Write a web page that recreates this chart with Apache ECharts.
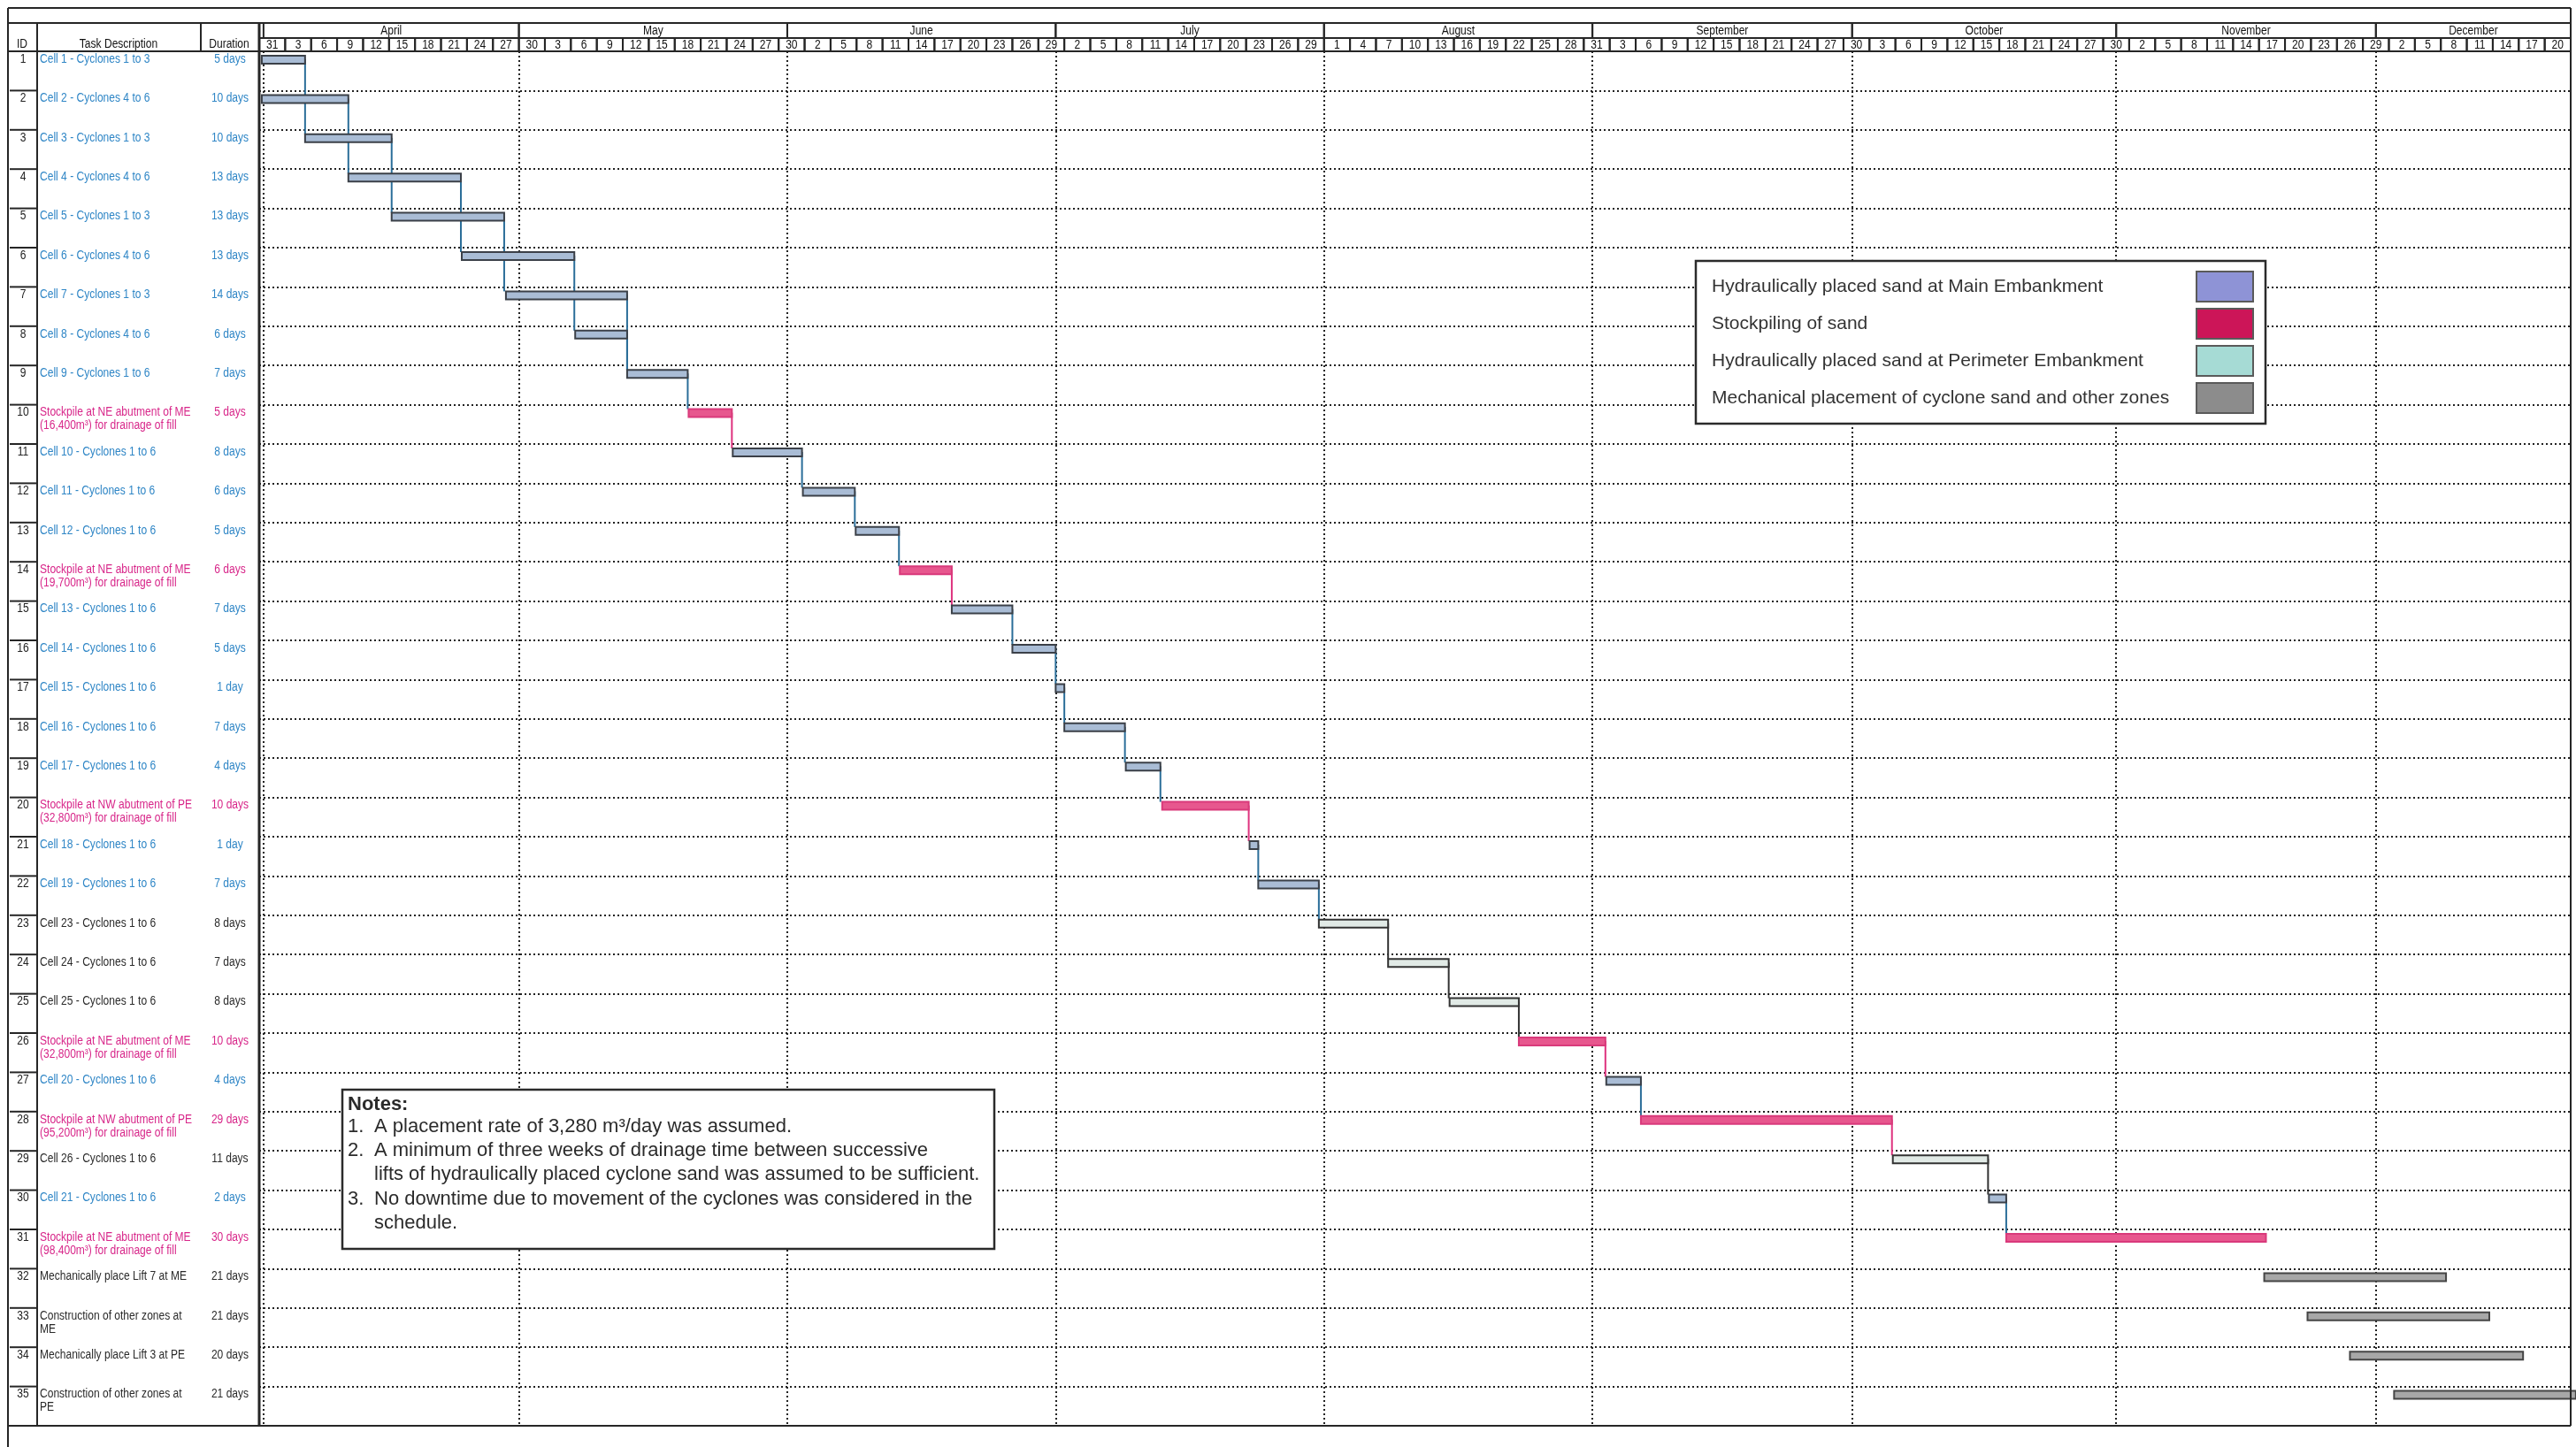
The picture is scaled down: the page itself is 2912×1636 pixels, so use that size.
<!DOCTYPE html>
<html>
<head>
<meta charset="utf-8">
<title>Cyclone sand placement schedule</title>
<script src="https://cdn.jsdelivr.net/npm/echarts@6/dist/echarts.min.js"></script>
<style>
  html, body { margin: 0; padding: 0; background: #fff; }
  #chart { width: 2912px; height: 1636px; }
</style>
</head>
<body>
<div id="chart"></div>
<script>
// ---- schedule data (day 0 = 31 March) ----
var taskIds = [1, 2, 3, 4, 5, 6, 7, 8, 9, 10, 11, 12, 13, 14, 15, 16, 17, 18, 19, 20,
  21, 22, 23, 24, 25, 26, 27, 28, 29, 30, 31, 32, 33, 34, 35];

var taskNames = [
  'Cell 1 - Cyclones 1 to 3',
  'Cell 2 - Cyclones 4 to 6',
  'Cell 3 - Cyclones 1 to 3',
  'Cell 4 - Cyclones 4 to 6',
  'Cell 5 - Cyclones 1 to 3',
  'Cell 6 - Cyclones 4 to 6',
  'Cell 7 - Cyclones 1 to 3',
  'Cell 8 - Cyclones 4 to 6',
  'Cell 9 - Cyclones 1 to 6',
  'Stockpile at NE abutment of ME\n(16,400m³) for drainage of fill',
  'Cell 10 - Cyclones 1 to 6',
  'Cell 11 - Cyclones 1 to 6',
  'Cell 12 - Cyclones 1 to 6',
  'Stockpile at NE abutment of ME\n(19,700m³) for drainage of fill',
  'Cell 13 - Cyclones 1 to 6',
  'Cell 14 - Cyclones 1 to 6',
  'Cell 15 - Cyclones 1 to 6',
  'Cell 16 - Cyclones 1 to 6',
  'Cell 17 - Cyclones 1 to 6',
  'Stockpile at NW abutment of PE\n(32,800m³) for drainage of fill',
  'Cell 18 - Cyclones 1 to 6',
  'Cell 19 - Cyclones 1 to 6',
  'Cell 23 - Cyclones 1 to 6',
  'Cell 24 - Cyclones 1 to 6',
  'Cell 25 - Cyclones 1 to 6',
  'Stockpile at NE abutment of ME\n(32,800m³) for drainage of fill',
  'Cell 20 - Cyclones 1 to 6',
  'Stockpile at NW abutment of PE\n(95,200m³) for drainage of fill',
  'Cell 26 - Cyclones 1 to 6',
  'Cell 21 - Cyclones 1 to 6',
  'Stockpile at NE abutment of ME\n(98,400m³) for drainage of fill',
  'Mechanically place Lift 7 at ME',
  'Construction of other zones at\nME',
  'Mechanically place Lift 3 at PE',
  'Construction of other zones at\nPE'
];

var durationLabels = ['5 days', '10 days', '10 days', '13 days', '13 days', '13 days', '14 days',
  '6 days', '7 days', '5 days', '8 days', '6 days', '5 days', '6 days', '7 days', '5 days', '1 day',
  '7 days', '4 days', '10 days', '1 day', '7 days', '8 days', '7 days', '8 days', '10 days', '4 days',
  '29 days', '11 days', '2 days', '30 days', '21 days', '21 days', '20 days', '21 days'];

// me = hydraulic at Main Embankment, stock = stockpiling, pe = hydraulic at Perimeter Embankment, mech = mechanical
var taskType = ['me', 'me', 'me', 'me', 'me', 'me', 'me', 'me', 'me', 'stock', 'me', 'me', 'me', 'stock',
  'me', 'me', 'me', 'me', 'me', 'stock', 'me', 'me', 'pe', 'pe', 'pe', 'stock', 'me', 'stock', 'pe',
  'me', 'stock', 'mech', 'mech', 'mech', 'mech'];

var startDays = [0.3, 0.3, 5.3, 10.3, 15.3, 23.4, 28.5, 36.5, 42.5, 49.6, 54.7, 62.8, 68.9, 74, 80,
  87, 92, 93, 100.1, 104.3, 114.4, 115.4, 122.4, 130.4, 137.5, 145.5, 155.6, 159.6, 188.7, 199.8,
  201.8, 231.6, 236.6, 241.5, 246.6];

var durationDays = [5, 10, 10, 13, 13, 13, 14, 6, 7, 5, 8, 6, 5, 6, 7, 5, 1, 7, 4, 10, 1, 7, 8, 7, 8,
  10, 4, 29, 11, 2, 30, 21, 21, 20, 21];

// finish-to-start links [predecessor id, successor id]
var links = [[1, 3], [2, 4], [3, 5], [4, 6], [5, 7], [6, 8], [7, 9], [8, 9], [9, 10], [10, 11],
  [11, 12], [12, 13], [13, 14], [14, 15], [15, 16], [16, 17], [17, 18], [18, 19], [19, 20], [20, 21],
  [21, 22], [22, 23], [23, 24], [24, 25], [25, 26], [26, 27], [27, 28], [28, 29], [29, 30], [30, 31]];

// timescale: one cell every 3 days from 31 March
var dayTicks = [31, 3, 6, 9, 12, 15, 18, 21, 24, 27,
  30, 3, 6, 9, 12, 15, 18, 21, 24, 27,
  30, 2, 5, 8, 11, 14, 17, 20, 23, 26, 29,
  2, 5, 8, 11, 14, 17, 20, 23, 26, 29,
  1, 4, 7, 10, 13, 16, 19, 22, 25, 28,
  31, 3, 6, 9, 12, 15, 18, 21, 24, 27,
  30, 3, 6, 9, 12, 15, 18, 21, 24, 27, 30,
  2, 5, 8, 11, 14, 17, 20, 23, 26, 29,
  2, 5, 8, 11, 14, 17, 20];
var months = ['April', 'May', 'June', 'July', 'August', 'September', 'October', 'November', 'December'];
var monthStarts = [0.5, 30, 61, 92, 123, 154, 184, 214.5, 244.5];
var lastDay = 267;

var legendNames = [
  'Hydraulically placed sand at Main Embankment',
  'Stockpiling of sand',
  'Hydraulically placed sand at Perimeter Embankment',
  'Mechanical placement of cyclone sand and other zones'
];

var noteNumbers = ['1.', '2.', '', '3.', ''];
var noteLines = [
  'A placement rate of 3,280 m³/day was assumed.',
  'A minimum of three weeks of drainage time between successive',
  'lifts of hydraulically placed cyclone sand was assumed to be sufficient.',
  'No downtime due to movement of the cyclones was considered in the',
  'schedule.'
];

// ---- styles ----
var SANS = '"Liberation Sans", Arial, sans-serif';
var SQUEEZE = 0.86; // no narrow face installed, so squeeze the small table text
var INK = '#262626';
var typeKeys = ['me', 'stock', 'pe', 'mech'];
var typeStyle = {
  me:    { fill: '#a9bcd5', stroke: '#3b4048', text: '#2f86c6', link: '#2b6e99' },
  stock: { fill: '#e7578e', stroke: '#d93a7b', text: '#d8278a', link: '#de327e' },
  pe:    { fill: '#e1eae6', stroke: '#333333', text: '#2b2b2b', link: '#333333' },
  mech:  { fill: '#a7a7a7', stroke: '#454545', text: '#2b2b2b', link: '#333333' }
};
var swatchColors = ['#8e93d6', '#cc1558', '#a6dbd5', '#8c8c8c'];

var chart = echarts.init(document.getElementById('chart'));

function rowTop(api, row) {
  return api.coord([0, row])[1] - api.size([0, 1])[1] / 2;
}

function smallText(x, y, text, color, align, vAlign) {
  return {
    type: 'text', x: x, y: y, scaleX: SQUEEZE,
    style: { text: text, fontFamily: SANS, fontSize: 14, lineHeight: 15, fill: color,
      align: align, verticalAlign: vAlign }
  };
}

function barRenderer(key) {
  var st = typeStyle[key];
  return function (params, api) {
    var row = api.value(1);
    var a = api.coord([api.value(0), row]);
    var b = api.coord([api.value(0) + api.value(2), row]);
    var top = rowTop(api, row);
    return {
      type: 'rect',
      shape: { x: a[0], y: top + 5, width: b[0] - a[0], height: 9 },
      style: { fill: st.fill, stroke: st.stroke, lineWidth: 2 }
    };
  };
}

function renderLink(params, api) {
  var x = api.value(0);
  var a = api.coord([x, api.value(1)]);
  var b = api.coord([x, api.value(2)]);
  var y1 = rowTop(api, api.value(1)) + 9;
  var y2 = rowTop(api, api.value(2)) + 5;
  return {
    type: 'line',
    shape: { x1: a[0], y1: y1, x2: b[0], y2: y2 },
    style: { stroke: typeStyle[typeKeys[api.value(3)]].link, lineWidth: 2 }
  };
}

function cellRenderer(labels) {
  return function (params, api) {
    var a = api.coord([api.value(0), 0]);
    var b = api.coord([api.value(1), 0]);
    var h = api.size([0, 1])[1];
    return {
      type: 'group',
      children: [
        { type: 'rect', shape: { x: a[0], y: a[1] - h / 2, width: b[0] - a[0], height: h },
          style: { fill: 'none', stroke: INK, lineWidth: 2 } },
        smallText((a[0] + b[0]) / 2, a[1] + 1, String(labels[params.dataIndex]), '#111', 'center', 'middle')
      ]
    };
  };
}

function renderRow(params, api) {
  var i = params.dataIndex;
  var row = api.value(0);
  var top = rowTop(api, row);
  var color = typeStyle[taskType[i]].text;
  return {
    type: 'group',
    children: [
      { type: 'line', shape: { x1: api.coord([0, row])[0], y1: top, x2: api.coord([31, row])[0], y2: top },
        style: { stroke: INK, lineWidth: 2 } },
      smallText(api.coord([15, row])[0], top + 9, String(taskIds[i]), '#222', 'center', 'middle'),
      smallText(api.coord([34, row])[0], top + 1.5, taskNames[i], color, 'left', 'top'),
      smallText(api.coord([249, row])[0], top + 9, durationLabels[i], color, 'center', 'middle')
    ]
  };
}

var barSeries = typeKeys.map(function (key, k) {
  var rows = [];
  taskIds.forEach(function (id, i) {
    if (taskType[i] === key) rows.push([startDays[i], i, durationDays[i]]);
  });
  return {
    name: legendNames[k],
    type: 'custom',
    xAxisIndex: 0,
    yAxisIndex: 0,
    renderItem: barRenderer(key),
    encode: { x: [0], y: 1 },
    data: rows,
    z: 6
  };
});

var linkData = links.map(function (l) {
  var p = l[0] - 1, s = l[1] - 1;
  return [startDays[p] + durationDays[p], p, s, typeKeys.indexOf(taskType[p])];
});

var monthData = months.map(function (m, i) {
  return [monthStarts[i], i + 1 < monthStarts.length ? monthStarts[i + 1] : lastDay, 0];
});
var dayData = dayTicks.map(function (d, k) {
  return [k * 3, Math.min(k * 3 + 3, lastDay), 0];
});

var frameLines = [
  [9, 9, 2906, 9], [9, 26, 2906, 26], [9, 9, 9, 1636], [2906, 9, 2906, 1612],
  [9, 1612, 2906, 1612], [9, 58, 293, 58], [42, 26, 42, 1612], [227, 26, 227, 58]
];
var graphics = frameLines.map(function (l) {
  return { type: 'line', shape: { x1: l[0], y1: l[1], x2: l[2], y2: l[3] },
    style: { stroke: INK, lineWidth: 2 }, z: 50 };
});
graphics.push({ type: 'line', shape: { x1: 293, y1: 26, x2: 293, y2: 1612 },
  style: { stroke: INK, lineWidth: 3 }, z: 50 });
[['ID', 25], ['Task Description', 134], ['Duration', 259]].forEach(function (h) {
  var t = smallText(h[1], 50, h[0], '#111', 'center', 'middle');
  t.z = 50;
  graphics.push(t);
});

var NOTE_Z = 80;
var noteChildren = [
  { type: 'rect', z: NOTE_Z, shape: { x: 0, y: 0, width: 737, height: 180 },
    style: { fill: '#fff', stroke: '#2b2b2b', lineWidth: 2.5 } },
  { type: 'text', z: NOTE_Z + 1, x: 6, y: 17,
    style: { text: 'Notes:', fontFamily: SANS, fontWeight: 'bold', fontSize: 22, fill: '#2b2b2b', verticalAlign: 'middle' } }
];
noteLines.forEach(function (t, k) {
  var y = 42 + k * 27.2;
  if (noteNumbers[k]) {
    noteChildren.push({ type: 'text', z: NOTE_Z + 1, x: 6, y: y,
      style: { text: noteNumbers[k], fontFamily: SANS, fontSize: 22, fill: '#2b2b2b', verticalAlign: 'middle' } });
  }
  noteChildren.push({ type: 'text', z: NOTE_Z + 1, x: 36, y: y,
    style: { text: t, fontFamily: SANS, fontSize: 22, fill: '#2b2b2b', verticalAlign: 'middle' } });
});
graphics.push({ type: 'group', x: 387, y: 1232, z: NOTE_Z, children: noteChildren });

var hiddenCat = { type: 'category', show: false };

var option = {
  animation: false,
  backgroundColor: '#fff',
  grid: [
    { left: 293, right: 6, top: 58, bottom: 24 },
    { left: 293, right: 6, top: 26, height: 17 },
    { left: 293, right: 6, top: 43, height: 15 },
    { left: 11, width: 282, top: 58, bottom: 24 }
  ],
  xAxis: [
    { type: 'value', gridIndex: 0, min: 0, max: lastDay, show: false },
    { type: 'value', gridIndex: 1, min: 0, max: lastDay, show: false },
    { type: 'value', gridIndex: 2, min: 0, max: lastDay, show: false },
    { type: 'value', gridIndex: 3, min: 0, max: 282, show: false }
  ],
  yAxis: [
    { type: 'category', gridIndex: 0, inverse: true, data: taskIds.map(String),
      axisLine: { show: false }, axisTick: { show: false }, axisLabel: { show: false },
      splitLine: { show: true, lineStyle: { color: '#222', width: 2, type: [2, 3] } } },
    Object.assign({ gridIndex: 1, data: ['m'] }, hiddenCat),
    Object.assign({ gridIndex: 2, data: ['d'] }, hiddenCat),
    Object.assign({ gridIndex: 3, data: taskIds.map(String), inverse: true }, hiddenCat)
  ],
  legend: {
    left: 1917, top: 295, z: 40,
    orient: 'vertical', align: 'right',
    selectedMode: false,
    icon: 'rect', itemWidth: 64, itemHeight: 34, itemGap: 6,
    padding: [11, 13, 11, 18],
    backgroundColor: '#fff', borderColor: '#2b2b2b', borderWidth: 2.5,
    itemStyle: { borderColor: '#5a5a5a', borderWidth: 2 },
    formatter: function (name) { return '{t|' + name + '}'; },
    textStyle: { rich: { t: { width: 543, align: 'left', fontSize: 21, fontFamily: SANS, color: '#333' } } },
    data: legendNames.map(function (n, i) { return { name: n, itemStyle: { color: swatchColors[i] } }; })
  },
  graphic: graphics,
  series: barSeries.concat([
    {
      name: 'links', type: 'custom', xAxisIndex: 0, yAxisIndex: 0,
      renderItem: renderLink, encode: { x: [0], y: 1 }, data: linkData, z: 5
    },
    {
      name: 'month lines', type: 'line', xAxisIndex: 0, yAxisIndex: 0, data: [], silent: true,
      markLine: {
        silent: true, symbol: 'none', label: { show: false },
        lineStyle: { color: '#222', width: 2, type: [2, 3] },
        data: monthStarts.map(function (d) { return { xAxis: d }; })
      }
    },
    {
      name: 'months', type: 'custom', xAxisIndex: 1, yAxisIndex: 1,
      renderItem: cellRenderer(months), encode: { x: [0, 1], y: 2 }, data: monthData
    },
    {
      name: 'days', type: 'custom', xAxisIndex: 2, yAxisIndex: 2,
      renderItem: cellRenderer(dayTicks), encode: { x: [0, 1], y: 2 }, data: dayData
    },
    {
      name: 'table', type: 'custom', xAxisIndex: 3, yAxisIndex: 3,
      renderItem: renderRow, encode: { y: 0 }, data: taskIds.map(function (id, i) { return [i]; })
    }
  ])
};

chart.setOption(option);
</script>
</body>
</html>
